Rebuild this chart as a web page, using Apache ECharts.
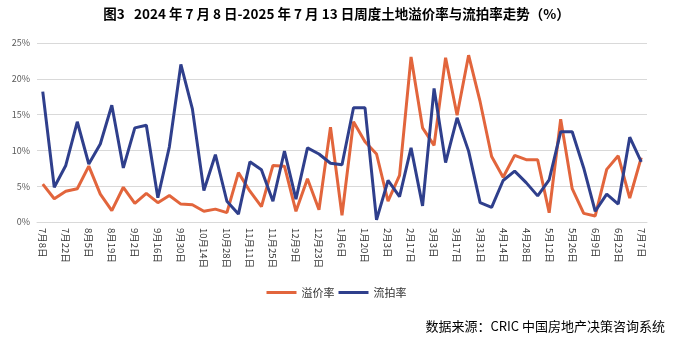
<!DOCTYPE html>
<html><head><meta charset="utf-8">
<script src="https://cdn.jsdelivr.net/npm/echarts@6/dist/echarts.min.js"></script>
<style>html,body{margin:0;padding:0;background:#fff}#c{width:673px;height:346px}</style>
</head><body><div id="c"></div>
<script>
var categories = ['7月8日','7月15日','7月22日','7月29日','8月5日','8月12日','8月19日','8月26日','9月2日','9月9日',
'9月16日','9月23日','9月30日','10月7日','10月14日','10月21日','10月28日','11月4日','11月11日','11月18日',
'11月25日','12月2日','12月9日','12月16日','12月23日','12月30日','1月6日','1月13日','1月20日','1月27日',
'2月3日','2月10日','2月17日','2月24日','3月3日','3月10日','3月17日','3月24日','3月31日','4月7日',
'4月14日','4月21日','4月28日','5月5日','5月12日','5月19日','5月26日','6月2日','6月9日','6月16日',
'6月23日','6月30日','7月7日'];
var premiumRate = [5.3,3.25,4.3,4.65,7.8,3.9,1.6,4.85,2.6,4.0,
2.7,3.7,2.5,2.4,1.5,1.8,1.3,6.9,4.3,2.15,
7.9,7.8,1.5,6.05,1.7,13.25,0.95,14.0,11.2,9.5,
2.9,6.5,23.05,13.15,10.7,22.95,14.9,23.3,16.8,9.15,
6.25,9.3,8.7,8.7,1.3,14.35,4.65,1.2,0.85,7.35,
9.25,3.35,9.0];
var failRate = [18.2,4.85,7.9,14.0,8.1,10.9,16.3,7.55,13.15,13.5,
3.4,10.5,22.0,15.8,4.4,9.4,2.9,1.1,8.4,7.3,
2.9,9.9,3.2,10.35,9.5,8.2,8.0,15.95,15.95,0.3,
5.8,3.55,10.35,2.25,18.65,8.3,14.55,9.9,2.7,2.05,
5.8,7.1,5.5,3.65,5.9,12.6,12.6,7.55,1.5,3.9,
2.5,11.85,8.4];
var seriesNames = ['溢价率','流拍率'];
var titleText = '图3   2024 年 7 月 8 日-2025 年 7 月 13 日周度土地溢价率与流拍率走势（%）';
var sourceText = '数据来源：CRIC 中国房地产决策咨询系统';

var chart = echarts.init(document.getElementById('c'), null, {renderer:'canvas'});
var cjk = '"Noto Sans CJK SC", "Noto Sans", sans-serif';
chart.setOption({
  animation:false,
  backgroundColor:'#fff',
  title:{text:titleText,left:'center',top:2,textStyle:{fontFamily:cjk,fontSize:13.5,fontWeight:'bold',color:'#000'}},
  graphic:[{type:'text',right:8,top:320,style:{text:sourceText,font:'13px '+cjk,fill:'#000'}}],
  legend:{data:seriesNames,top:282,left:'center',itemWidth:30,itemHeight:3,itemGap:4,icon:'rect',
    textStyle:{fontFamily:cjk,fontSize:11,color:'#333'}},
  grid:{left:37,right:26,top:43,bottom:124},
  xAxis:{type:'category',data:categories,boundaryGap:true,
    axisLine:{lineStyle:{color:'#d9d9d9'}},axisTick:{show:false},
    axisLabel:{interval:1,rotate:-90,margin:6,fontFamily:cjk,fontSize:9.5,color:'#333'}},
  yAxis:{type:'value',min:0,max:25,interval:5,
    axisLine:{show:false},axisTick:{show:false},
    splitLine:{lineStyle:{color:'#d9d9d9'}},
    axisLabel:{formatter:'{value}%',fontFamily:cjk,fontSize:9,color:'#595959',margin:7}},
  series:[
    {name:seriesNames[0],type:'line',data:premiumRate,symbol:'none',lineStyle:{width:3,color:'#E2653C'},itemStyle:{color:'#E2653C'}},
    {name:seriesNames[1],type:'line',data:failRate,symbol:'none',lineStyle:{width:3,color:'#2F3F8C'},itemStyle:{color:'#2F3F8C'}}
  ]
});
</script></body></html>
